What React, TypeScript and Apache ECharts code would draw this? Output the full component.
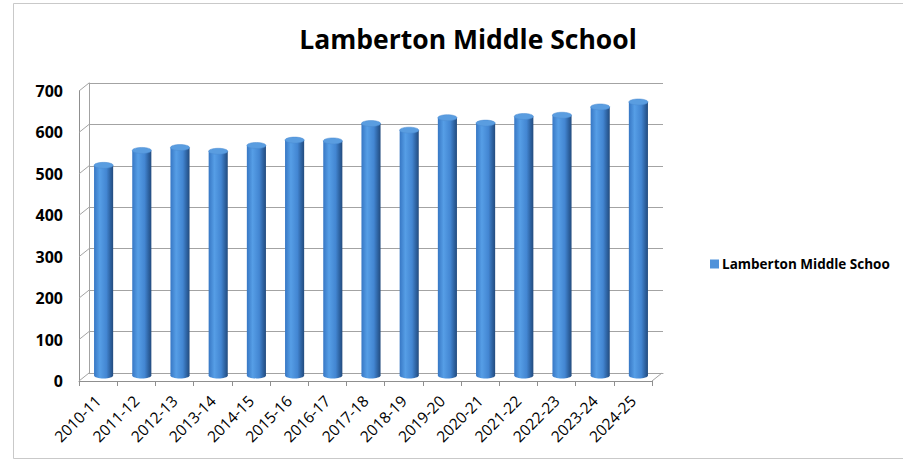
import React, { useEffect, useRef } from "react";
import * as echarts from "echarts";

const TITLE = "Lamberton Middle School";
const SERIES_NAME = "Lamberton Middle School";
const LEGEND_LABEL = "Lamberton Middle Schoo";
const CATEGORIES = [
  "2010-11", "2011-12", "2012-13", "2013-14", "2014-15", "2015-16", "2016-17", "2017-18",
  "2018-19", "2019-20", "2020-21", "2021-22", "2022-23", "2023-24", "2024-25",
];
const VALUES = [507, 543, 550, 541, 555, 568, 566, 608, 592, 622, 609, 625, 628, 648, 660];
const Y_TICKS = [0, 100, 200, 300, 400, 500, 600, 700];

const DX = 10;
const DY = -8;
const GRID_COLOR = "#a3a3a3";
const FONT = "'Open Sans', 'Noto Sans', sans-serif";

export default function App() {
  const ref = useRef<HTMLDivElement>(null);
  useEffect(() => {
    if (!ref.current) return;
    const chart = echarts.init(ref.current, null, { renderer: "svg" });
    const barGrad = {
      type: "linear", x: 0, y: 0, x2: 1, y2: 0,
      colorStops: [
        { offset: 0, color: "#3777c4" },
        { offset: 0.3, color: "#569ee6" },
        { offset: 0.65, color: "#4386d2" },
        { offset: 0.85, color: "#2e63a2" },
        { offset: 1, color: "#234b7d" },
      ],
    };
    chart.setOption({
      animation: false,
      backgroundColor: "#ffffff",
      title: {
        text: TITLE,
        left: 463,
        top: 20,
        textAlign: "center",
        textStyle: { fontFamily: FONT, fontWeight: "bold", fontSize: 26.5, color: "#000" },
      },
      legend: {
        left: 705,
        top: 252,
        itemWidth: 9,
        itemHeight: 9,
        itemGap: 4,
        icon: "rect",
        formatter: () => LEGEND_LABEL,
        textStyle: { fontFamily: FONT, fontWeight: "bold", fontSize: 13.5, color: "#000", padding: [0, 0, 0, -2] },
        data: [{ name: SERIES_NAME, itemStyle: { color: "#4f92da" } }],
      },
      graphic: [
        {
          type: "rect",
          shape: { x: 13.5, y: 3.5, width: 900, height: 455 },
          style: { fill: "none", stroke: "#c9c9c9", lineWidth: 1 },
          silent: true,
        },
      ],
      grid: [
        { left: 79, top: 91, width: 573, height: 290 },
        { left: 79 + DX, top: 91 + DY, width: 573 + 1, height: 290 },
      ],
      xAxis: [
        {
          type: "category",
          gridIndex: 0,
          data: CATEGORIES,
          boundaryGap: true,
          axisLine: { show: true, lineStyle: { color: "#8f8f8f" } },
          axisTick: { show: true, interval: 0, length: 5, lineStyle: { color: "#8f8f8f" } },
          axisLabel: {
            interval: 0,
            rotate: 45,
            fontFamily: FONT,
            fontSize: 15.5,
            color: "#000",
            margin: 17,
          },
        },
        {
          type: "category",
          gridIndex: 1,
          data: CATEGORIES,
          axisLine: { show: true, lineStyle: { color: GRID_COLOR } },
          axisTick: { show: false },
          axisLabel: { show: false },
        },
      ],
      yAxis: [
        {
          type: "value",
          gridIndex: 0,
          min: 0,
          max: 700,
          interval: 100,
          axisLine: { show: true, lineStyle: { color: "#8f8f8f" } },
          axisTick: { show: false },
          splitLine: { show: false },
          axisLabel: {
            fontFamily: FONT,
            fontWeight: "bold",
            fontSize: 16,
            color: "#000",
            margin: 16,
          },
        },
        {
          type: "value",
          gridIndex: 1,
          min: 0,
          max: 700,
          interval: 100,
          axisLine: { show: true, lineStyle: { color: GRID_COLOR } },
          axisTick: { show: false },
          axisLabel: { show: false },
          splitLine: { show: true, lineStyle: { color: GRID_COLOR, width: 1 } },
        },
      ],
      series: [
        {
          type: "custom",
          name: "walls",
          xAxisIndex: 0,
          yAxisIndex: 0,
          silent: true,
          z: 1,
          data: Y_TICKS.map((v) => [0, v]),
          encode: { x: 0, y: 1 },
          renderItem: (params: any, api: any) => {
            const v = api.value(1);
            const p = api.coord([0, v]);
            const band = api.size([1, 0])[0];
            const x0 = p[0] - band / 2;
            const children: any[] = [
              {
                type: "line",
                shape: { x1: x0, y1: p[1], x2: x0 + DX, y2: p[1] + DY },
                style: { stroke: GRID_COLOR, lineWidth: 1 },
              },
            ];
            if (v === 0) {
              const q = api.coord([CATEGORIES.length - 1, 0]);
              const x1 = q[0] + band / 2;
              children.push({
                type: "line",
                shape: { x1: x1, y1: q[1], x2: x1 + DX, y2: q[1] + DY },
                style: { stroke: GRID_COLOR, lineWidth: 1 },
              });
            }
            return { type: "group", children };
          },
        },
        {
          type: "custom",
          name: SERIES_NAME,
          xAxisIndex: 0,
          yAxisIndex: 0,
          z: 3,
          itemStyle: { color: "#4f92da" },
          data: VALUES.map((v, i) => [i, v]),
          encode: { x: 0, y: 1 },
          renderItem: (params: any, api: any) => {
            const i = api.value(0);
            const v = api.value(1);
            const top = api.coord([i, v]);
            const base = api.coord([i, 0]);
            const band = api.size([1, 0])[0];
            const w = band * 0.5;
            const cx = top[0] + DX * 0.55;
            const yt = top[1] + DY * 0.7;
            const yb = base[1] + DY * 0.7;
            const ry = 3;
            return {
              type: "group",
              children: [
                {
                  type: "ellipse",
                  shape: { cx, cy: yb, rx: w / 2, ry },
                  style: { fill: barGrad },
                },
                {
                  type: "rect",
                  shape: { x: cx - w / 2, y: yt, width: w, height: yb - yt },
                  style: { fill: barGrad },
                },
                {
                  type: "ellipse",
                  shape: { cx, cy: yt, rx: w / 2, ry },
                  style: { fill: "#5a9de0", stroke: "#4a8ad0", lineWidth: 0.5 },
                },
              ],
            };
          },
        },
      ],
    });
    return () => chart.dispose();
  }, []);
  return (
    <div
      ref={ref}
      style={{ position: "fixed", left: 0, top: 0, width: 903, height: 462 }}
    />
  );
}
